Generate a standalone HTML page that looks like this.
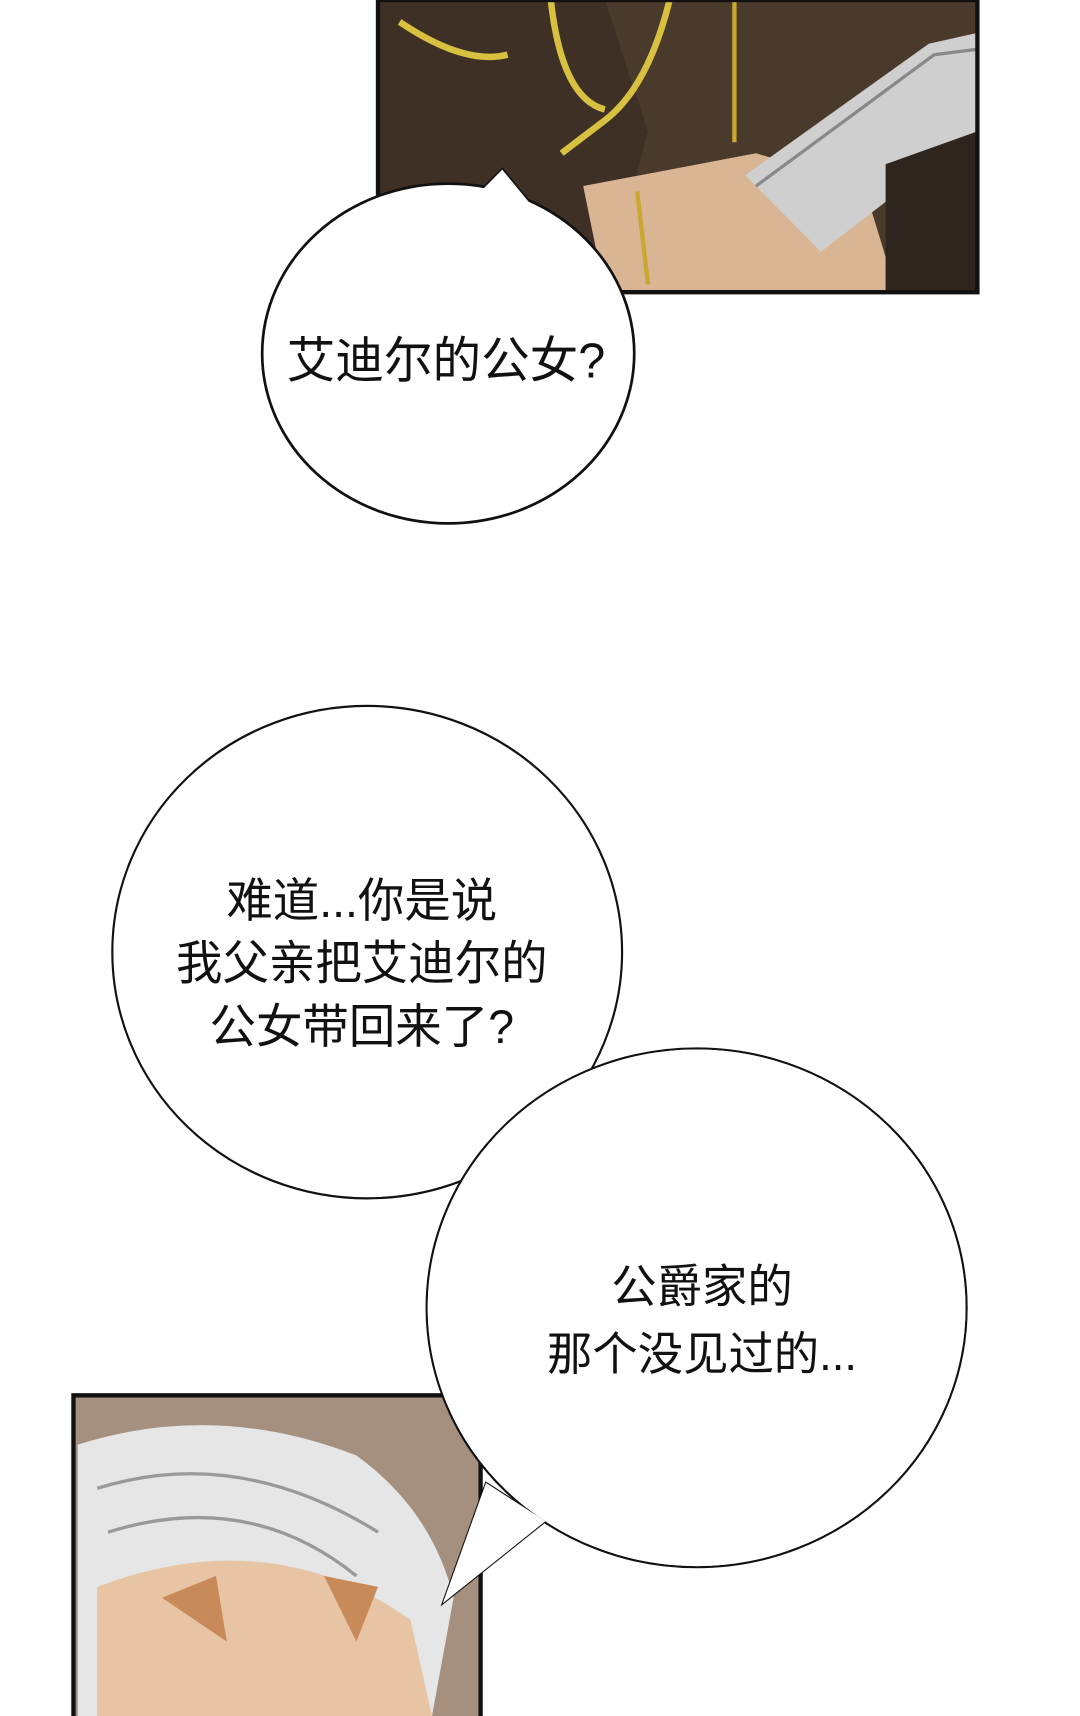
<!DOCTYPE html>
<html><head><meta charset="utf-8"><style>
html,body{margin:0;padding:0;background:#fff;}
svg{display:block}
text{font-family:"Liberation Sans","Noto Sans CJK SC",sans-serif;fill:#111;}
</style></head><body>
<svg width="1080" height="1716" viewBox="0 0 1000 1568" preserveAspectRatio="none" xmlns="http://www.w3.org/2000/svg">
<rect width="1000" height="1568" fill="#fff"/>
<!-- top panel -->
<g>
<rect x="350" y="0" width="555" height="267" fill="#4a3a2c"/>
<path d="M350 0 H560 L600 120 L560 267 H350Z" fill="#3e3024"/>
<path d="M540 170 L700 140 L800 170 L830 267 H560Z" fill="#d9b594"/>
<path d="M690 160 L860 40 L905 30 V120 L760 230 Z" fill="#cfcfcf"/>
<path d="M700 170 L865 50 L905 45" stroke="#888" stroke-width="3" fill="none"/>
<path d="M820 150 L905 120 V267 H820Z" fill="#2e261e"/>
<path d="M370 20 Q430 60 470 50 M510 0 Q520 90 560 100 M620 0 Q600 80 560 110 L520 140" stroke="#d8c040" stroke-width="6" fill="none"/>
<path d="M680 0 V130 M590 175 L600 260" stroke="#c8a830" stroke-width="4" fill="none"/>
<rect x="350" y="0" width="555" height="267" fill="none" stroke="#111" stroke-width="4"/>
</g>
<!-- bottom panel -->
<g>
<rect x="68" y="1275" width="377" height="293" fill="#a58f7f"/>
<path d="M72 1320 Q200 1280 330 1330 Q400 1380 420 1460 L400 1568 H72Z" fill="#e6e6e6"/>
<path d="M90 1450 Q250 1390 380 1480 L400 1568 H90Z" fill="#e7c4a4"/>
<path d="M150 1460 L200 1440 L210 1500Z M300 1440 L350 1450 L330 1500Z" fill="#c98a5a"/>
<path d="M90 1360 Q220 1320 350 1400 M100 1400 Q230 1360 330 1440" stroke="#999" stroke-width="3" fill="none"/>
<rect x="68" y="1275" width="377" height="295" fill="none" stroke="#111" stroke-width="4"/>
</g>
<!-- bubble 1 -->
<ellipse cx="415" cy="323" rx="172" ry="155" fill="#fff" stroke="#111" stroke-width="3"/>
<path d="M440 180 L465 155 L490 185Z" fill="#fff" stroke="#111" stroke-width="3"/>
<ellipse cx="415" cy="323" rx="171" ry="154" fill="#fff"/>
<path d="M440 180 L465 155 L490 185Z" fill="#fff"/>
<text x="413" y="345" font-size="45" text-anchor="middle">艾迪尔的公女?</text>
<!-- bubble 2 -->
<ellipse cx="340" cy="870" rx="236" ry="225" fill="#fff" stroke="#111" stroke-width="2"/>
<text x="335" y="838" font-size="43" text-anchor="middle">难道...你是说</text>
<text x="335" y="895" font-size="43" text-anchor="middle">我父亲把艾迪尔的</text>
<text x="335" y="953" font-size="43" text-anchor="middle">公女带回来了?</text>
<!-- bubble 3 -->
<ellipse cx="645" cy="1195" rx="250" ry="237" fill="#fff" stroke="#111" stroke-width="2"/>
<path d="M450 1355 L410 1465 L505 1390Z" fill="#fff" stroke="#111" stroke-width="2"/>
<ellipse cx="645" cy="1195" rx="249" ry="236" fill="#fff"/>
<path d="M450 1355 L410 1465 L505 1390Z" fill="#fff"/>
<text x="650" y="1190" font-size="42" text-anchor="middle">公爵家的</text>
<text x="650" y="1252" font-size="42" text-anchor="middle">那个没见过的...</text>
</svg>
</body></html>
